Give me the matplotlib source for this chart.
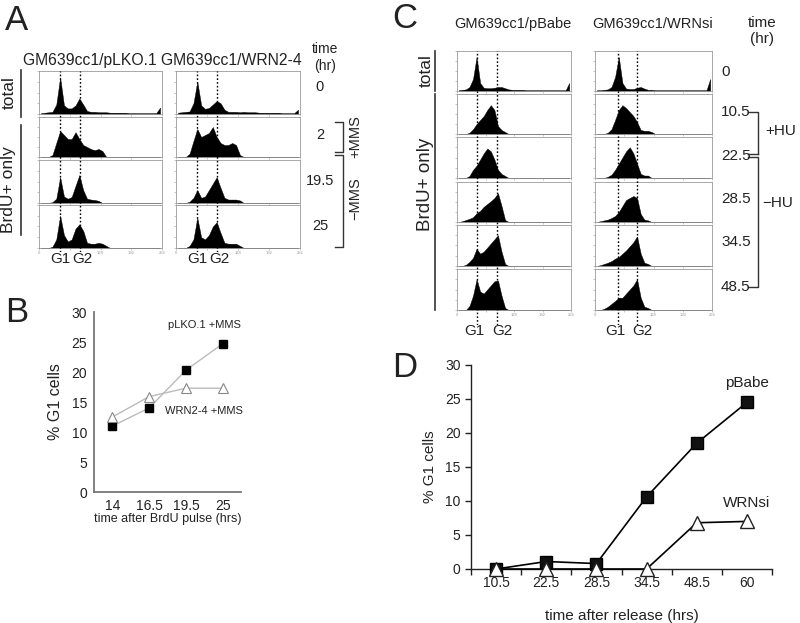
import numpy as np
import matplotlib
matplotlib.use("Agg")
import matplotlib.pyplot as plt
from matplotlib.lines import Line2D

plt.rcParams['font.family'] = ['Liberation Sans', 'DejaVu Sans']

# ---- data ----
# flow histograms: relative counts in 8-channel bins (0..256), trailing bins are empty
A_ROWS = ["0", "2", "19.5", "25"]
A_PLKO = [
    [0.02, 0.03, 0.04, 0.05, 0.22, 0.85, 0.2, 0.13, 0.13, 0.2, 0.36, 0.22, 0.07, 0.05, 0.05, 0.04,
     0.04, 0.04, 0.03, 0.03, 0.03, 0.03, 0.03, 0.02, 0.02, 0.02, 0.02, 0.02, 0.02, 0.02, 0.02, 0.15],
    [0, 0, 0, 0.05, 0.35, 0.65, 0.55, 0.45, 0.45, 0.62, 0.45, 0.3, 0.25, 0.2, 0.17, 0.2, 0.15],
    [0, 0, 0, 0.02, 0.1, 0.6, 0.15, 0.1, 0.14, 0.4, 0.65, 0.3, 0.1, 0.08, 0.07, 0.05],
    [0, 0, 0, 0.03, 0.2, 0.75, 0.3, 0.15, 0.2, 0.45, 0.55, 0.4, 0.12, 0.1, 0.1, 0.12, 0.1, 0.05],
]
A_WRN = [
    [0.03, 0.04, 0.05, 0.06, 0.25, 0.75, 0.2, 0.12, 0.14, 0.22, 0.3, 0.25, 0.1, 0.05, 0.05, 0.05,
     0.04, 0.05, 0.04, 0.04, 0.04, 0.03, 0.03, 0.03, 0.03, 0.03, 0.03, 0.02, 0.02, 0.02, 0.02, 0.1],
    [0, 0, 0, 0.08, 0.4, 0.7, 0.5, 0.55, 0.6, 0.75, 0.5, 0.35, 0.3, 0.3, 0.35, 0.3, 0.05],
    [0, 0, 0, 0.03, 0.12, 0.3, 0.12, 0.15, 0.3, 0.45, 0.6, 0.35, 0.12, 0.08, 0.08, 0.08, 0.06],
    [0, 0, 0, 0.05, 0.2, 0.7, 0.25, 0.2, 0.3, 0.5, 0.6, 0.35, 0.12, 0.1, 0.1, 0.1, 0.05],
]
C_ROWS = ["0", "10.5", "22.5", "28.5", "34.5", "48.5"]
C_PBABE = [
    [0.02, 0.03, 0.04, 0.1, 0.3, 0.85, 0.2, 0.08, 0.07, 0.07, 0.08, 0.1, 0.1, 0.07, 0.04, 0.03,
     0.03, 0.03, 0.03, 0.02, 0.02, 0.02, 0.02, 0.02, 0.02, 0.02, 0.02, 0.02, 0.02, 0.02, 0.02, 0.2],
    [0, 0, 0, 0.03, 0.12, 0.25, 0.35, 0.45, 0.6, 0.72, 0.6, 0.2, 0.1, 0.05],
    [0, 0, 0, 0.05, 0.2, 0.3, 0.45, 0.6, 0.72, 0.65, 0.45, 0.2, 0.1, 0.05],
    [0, 0.02, 0.05, 0.08, 0.12, 0.22, 0.28, 0.38, 0.45, 0.52, 0.6, 0.72, 0.4, 0.05],
    [0, 0, 0.03, 0.1, 0.2, 0.42, 0.3, 0.35, 0.45, 0.55, 0.65, 0.75, 0.35, 0.05],
    [0, 0, 0, 0.1, 0.35, 0.75, 0.45, 0.4, 0.5, 0.6, 0.7, 0.72, 0.35, 0.05],
]
C_WRNSI = [
    [0.02, 0.02, 0.03, 0.04, 0.1, 0.35, 0.85, 0.2, 0.06, 0.05, 0.05, 0.08, 0.1, 0.06, 0.03, 0.03,
     0.02, 0.02, 0.02, 0.02, 0.02, 0.02, 0.02, 0.02, 0.02, 0.02, 0.02, 0.02, 0.02, 0.02, 0.02, 0.3],
    [0, 0, 0, 0.03, 0.12, 0.35, 0.6, 0.72, 0.65, 0.55, 0.45, 0.3, 0.1, 0.08, 0.08, 0.05],
    [0, 0, 0, 0.03, 0.08, 0.2, 0.35, 0.5, 0.65, 0.75, 0.6, 0.35, 0.1, 0.06, 0.06],
    [0, 0.02, 0.04, 0.06, 0.1, 0.15, 0.25, 0.4, 0.55, 0.6, 0.65, 0.6, 0.2, 0.06, 0.04],
    [0, 0.02, 0.05, 0.08, 0.12, 0.18, 0.22, 0.3, 0.38, 0.48, 0.58, 0.72, 0.3, 0.08, 0.05],
    [0, 0, 0.03, 0.08, 0.15, 0.22, 0.3, 0.3, 0.4, 0.5, 0.6, 0.75, 0.3, 0.08, 0.05],
]

# panel B
b_times = ["14", "16.5", "19.5", "25"]
b_plko = [11.0, 14.0, 20.3, 24.7]
b_wrn = [12.5, 15.9, 17.3, 17.3]

# panel D
d_times = ["10.5", "22.5", "28.5", "34.5", "48.5", "60"]
d_pbabe = [0.0, 1.1, 0.8, 10.6, 18.5, 24.5]
d_wrnsi = [0.0, 0.0, 0.0, 0.0, 6.8, 7.0]

CENTERS = np.arange(4, 256, 8)
TXT = '#222222'

W, H = 800, 623
fig = plt.figure(figsize=(8, 6.23), dpi=100)


def px_axes(x0, y0, x1, y1):
    return fig.add_axes([x0 / W, 1 - y1 / H, (x1 - x0) / W, (y1 - y0) / H])


def px_text(x, y, s, **kw):
    kw.setdefault('color', TXT)
    fig.text(x / W, 1 - y / H, s, **kw)


def px_line(xs, ys, **kw):
    kw.setdefault('color', '#333333')
    kw.setdefault('lw', 1.2)
    fig.add_artist(Line2D([x / W for x in xs], [1 - y / H for y in ys],
                          transform=fig.transFigure, **kw))


def draw_hist(ax, vals, last):
    v = np.zeros(32)
    v[:len(vals)] = vals
    ax.fill_between(CENTERS, v, color='black', lw=0.3)
    ax.set_xlim(0, 256)
    ax.set_ylim(0, 1)
    for s in ax.spines.values():
        s.set_color('#9a9a9a')
        s.set_linewidth(0.6)
    ax.set_xticks([0, 64, 128, 192, 256])
    ax.set_yticks([0, 0.25, 0.5, 0.75, 1.0])
    ax.set_yticklabels([])
    ax.tick_params(length=1.5, width=0.4, colors='#999999', labelsize=3, pad=1)
    if last:
        ax.set_xticklabels(["0", "", "128", "192", "256"])
    else:
        ax.set_xticklabels([])


def hist_column(x0, x1, rows, data, g1, g2, gl_y):
    for i, ((y0, y1), vals) in enumerate(zip(rows, data)):
        ax = px_axes(x0, y0, x1, y1)
        draw_hist(ax, vals, i == len(rows) - 1)
    ov = px_axes(x0, rows[0][0], x1, gl_y - 6)
    ov.set_xlim(0, 256)
    ov.set_ylim(0, 1)
    ov.axis('off')
    ov.patch.set_alpha(0)
    for g in (g1, g2):
        ov.axvline(g, color='black', lw=1.0, ls=(0, (1.2, 1.5)))


# ---------------- panel A ----------------
px_text(5, 30, "A", fontsize=25, va='baseline')
px_text(162, 60, "GM639cc1/pLKO.1 GM639cc1/WRN2-4", fontsize=11.3, ha='center', va='center')
px_text(325, 49, "time", fontsize=10, ha='center', va='center')
px_text(325, 66, "(hr)", fontsize=10, ha='center', va='center')

a_rows = [(71, 114), (117, 157), (160, 203), (205, 248)]
hist_column(39, 162, a_rows, A_PLKO, 44, 85, 258)
hist_column(176, 300, a_rows, A_WRN, 44, 85, 258)
for x in (60, 197):
    px_text(x, 259, "G1", fontsize=11, ha='center', va='center')
    px_text(x + 22, 259, "G2", fontsize=11, ha='center', va='center')

a_label_y = [87, 135, 181, 226]
for lab, y in zip(A_ROWS, a_label_y):
    px_text(320, y, lab, fontsize=10.5, ha='center', va='center')

px_text(9, 93, "total", fontsize=12.5, rotation=90, ha='center', va='center')
px_line([21, 21], [70, 117])
px_text(9, 190, "BrdU+ only", fontsize=12.5, rotation=90, ha='center', va='center')
px_line([21, 21], [125, 235])

px_line([335, 343, 343, 335], [122, 122, 152, 152], lw=1.0)
px_line([335, 343, 343, 335], [155, 155, 247, 247], lw=1.0)
px_text(355, 137, "+MMS", fontsize=10.5, rotation=90, ha='center', va='center')
px_text(355, 199, "\u2212MMS", fontsize=10.5, rotation=90, ha='center', va='center')

# ---------------- panel B ----------------
px_text(5, 322, "B", fontsize=25, va='baseline')
axb = px_axes(94, 312, 241, 492)
xb = np.arange(len(b_times))
axb.plot(xb, b_plko, color='#bbbbbb', lw=1.0, marker='s', ms=5.5,
         mfc='black', mec='black', zorder=3)
axb.plot(xb, b_wrn, color='#bbbbbb', lw=1.0, marker='^', ms=7,
         mfc='white', mec='#888888', mew=0.8, zorder=3)
axb.set_xlim(-0.5, 3.5)
axb.set_ylim(0, 30)
axb.set_xticks(xb)
axb.set_xticklabels(b_times)
axb.set_yticks(range(0, 31, 5))
axb.tick_params(length=0, labelsize=10, colors=TXT, pad=5)
for s in ('top', 'right'):
    axb.spines[s].set_visible(False)
for s in ('left', 'bottom'):
    axb.spines[s].set_color('#777777')
    axb.spines[s].set_linewidth(1.3)
axb.set_ylabel("% G1 cells", fontsize=11.5, color=TXT, labelpad=6)
axb.set_xlabel("time after BrdU pulse (hrs)", fontsize=9, color=TXT, labelpad=0)
axb.text(2.5, 27.8, "pLKO.1 +MMS", fontsize=8, color=TXT, ha='center', va='center')
axb.text(2.5, 13.5, "WRN2-4 +MMS", fontsize=8, color=TXT, ha='center', va='center')

# ---------------- panel C ----------------
px_text(392, 28, "C", fontsize=25, va='baseline')
px_text(513, 24, "GM639cc1/pBabe", fontsize=10.5, ha='center', va='center')
px_text(653, 24, "GM639cc1/WRNsi", fontsize=10.5, ha='center', va='center')
px_text(762, 23, "time", fontsize=11, ha='center', va='center')
px_text(762, 39, "(hr)", fontsize=11, ha='center', va='center')

c_rows = [(51, 91), (94, 134), (137, 178), (182, 222), (225, 266), (269, 310)]
hist_column(457, 571, c_rows, C_PBABE, 45, 90, 331)
hist_column(595, 712, c_rows, C_WRNSI, 50, 92, 331)
for x1, x2 in ((474, 502), (615, 642)):
    px_text(x1, 331, "G1", fontsize=11, ha='center', va='center')
    px_text(x2, 331, "G2", fontsize=11, ha='center', va='center')

c_label_y = [72, 112, 156, 199, 242, 287]
for lab, y in zip(C_ROWS, c_label_y):
    px_text(721, y, lab, fontsize=11, ha='left', va='center')

px_text(426, 71, "total", fontsize=12.5, rotation=90, ha='center', va='center')
px_line([435, 435], [51, 91])
px_text(426, 184, "BrdU+ only", fontsize=13.5, rotation=90, ha='center', va='center')
px_line([435, 435], [94, 310])

px_line([748, 758, 758], [112, 112, 154], lw=1.0)
px_line([748, 758], [154, 154], lw=1.0)
px_line([748, 758, 758, 748], [157, 157, 287, 287], lw=1.0)
px_text(765, 131, "+HU", fontsize=11, ha='left', va='center')
px_text(762, 203, "\u2212HU", fontsize=11, ha='left', va='center')

# ---------------- panel D ----------------
px_text(392, 377, "D", fontsize=25, va='baseline')
axd = px_axes(471, 365, 772, 569)
xd = np.arange(len(d_times)) + 0.5
axd.plot(xd, d_pbabe, color='black', lw=1.2, marker='s', ms=8,
         mfc='#111111', mec='black', zorder=3, clip_on=False)
axd.plot(xd, d_wrnsi, color='black', lw=1.2, marker='^', ms=10,
         mfc='white', mec='#222222', mew=1.0, zorder=4, clip_on=False)
axd.set_xlim(0, 6)
axd.set_ylim(0, 30)
axd.set_xticks(range(7))
axd.set_xticklabels([])
axd.set_xticks(xd, minor=True)
axd.set_xticklabels(d_times, minor=True)
axd.tick_params(axis='x', which='minor', length=0, pad=5)
axd.tick_params(axis='x', which='major', length=4, width=1, direction='out')
axd.set_yticks(range(0, 31, 5))
axd.tick_params(axis='y', length=4, width=1, direction='out')
axd.tick_params(labelsize=10, colors=TXT, which='both')
for s in ('top', 'right'):
    axd.spines[s].set_visible(False)
for s in ('left', 'bottom'):
    axd.spines[s].set_color('#222222')
    axd.spines[s].set_linewidth(1.0)
axd.set_ylabel("% G1 cells", fontsize=11, color=TXT, labelpad=6)
axd.set_xlabel("time after release (hrs)", fontsize=11, color=TXT, labelpad=14)
axd.text(5.5, 27.4, "pBabe", fontsize=11, color=TXT, ha='center', va='center')
axd.text(5.5, 9.7, "WRNsi", fontsize=11, color=TXT, ha='center', va='center')

fig.savefig("out.png", dpi=100)
